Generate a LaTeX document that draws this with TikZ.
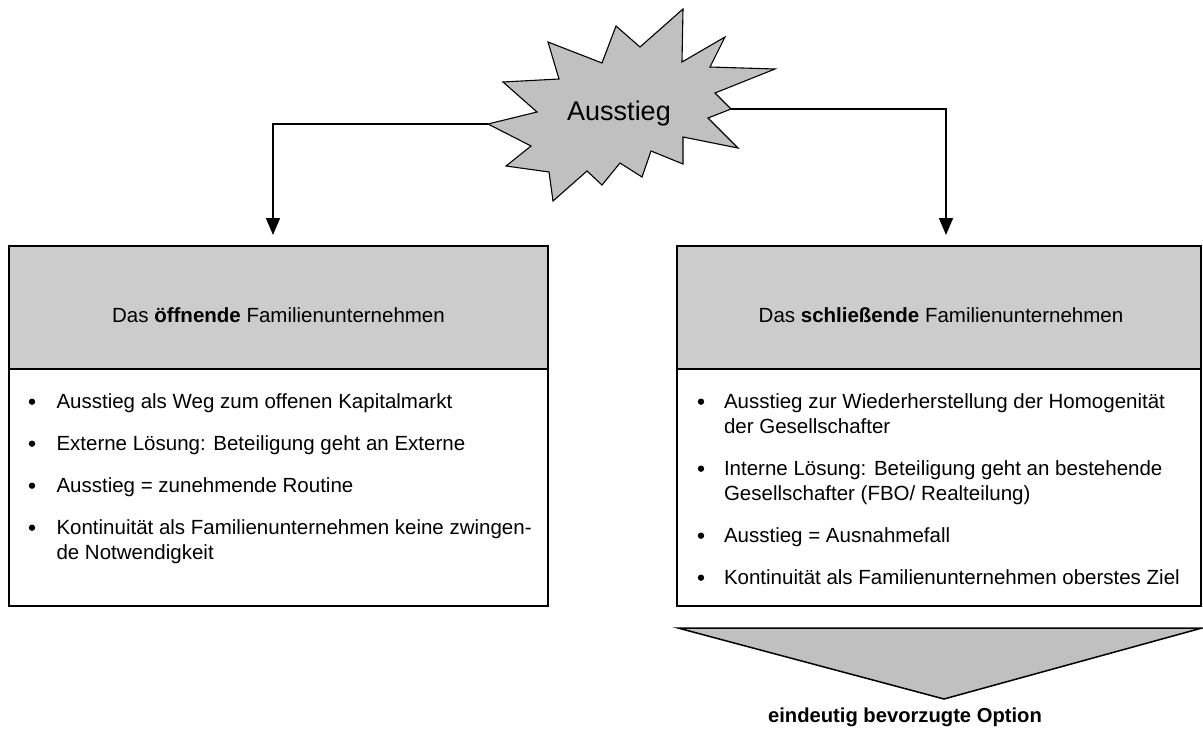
\documentclass[tikz,border=0pt]{standalone}
\usepackage{fontspec}
\setmainfont{Liberation Sans}
\usetikzlibrary{arrows.meta}
\definecolor{hdrgray}{RGB}{204,204,204}
\definecolor{burstgray}{RGB}{192,192,192}
\tikzset{
  boxframe/.style={draw=black, line width=2pt, inner sep=0pt, outer sep=0pt, anchor=north west},
  hdrbox/.style={boxframe, fill=hdrgray},
  bodytxt/.style={anchor=base west, inner sep=0pt, outer sep=0pt, font=\fontsize{20.5}{25}\selectfont},
  hdrtxt/.style={anchor=base, inner sep=0pt, outer sep=0pt, font=\fontsize{20.5}{25}\selectfont},
  conn/.style={draw=black, line width=1.5pt, -{Triangle[length=17pt,width=14pt]}},
  bulletdot/.style={circle, fill=black, inner sep=0pt, minimum size=6.4pt}
}
\begin{document}
\begin{tikzpicture}[x=1pt,y=-1pt]
\useasboundingbox[fill=white] (0,0) rectangle (1203,731);

% starburst
\draw[fill=burstgray, line width=1.1pt, line join=miter]
 (683,9) -- (640,47) -- (616,26) -- (602,63) -- (548,42) -- (559,79) -- (503,82)
 -- (537,112) -- (488,124) -- (531,146) -- (506,166) -- (549,172) -- (553,201)
 -- (587,171) -- (602,185) -- (620,163) -- (642,177) -- (651,151) -- (683,164)
 -- (683,137) -- (738,148) -- (708,118) -- (731,109) -- (715,93) -- (775,69)
 -- (710,67) -- (725,37) -- (682,62) -- cycle;
\node[anchor=base, inner sep=0pt, font=\fontsize{27}{30}\selectfont] (burst) at (619,120) {Ausstieg};
\coordinate (burstL) at (488,124);
\coordinate (burstR) at (731,109);

% left box
\node[hdrbox, minimum width=539pt, minimum height=123pt] (lhead) at (9,246) {};
\node[boxframe, minimum width=539pt, minimum height=237pt] (lbody) at (9,369) {};
\node[hdrtxt] (lheadtxt) at (278.5,322) {Das \textbf{öffnende} Familienunternehmen};

% right box
\node[hdrbox, minimum width=524pt, minimum height=123pt] (rhead) at (677,246) {};
\node[boxframe, minimum width=524pt, minimum height=237pt] (rbody) at (677,369) {};
\node[hdrtxt] (rheadtxt) at (941,322) {Das \textbf{schließende} Familienunternehmen};

% arrow targets
\coordinate (ltip) at (273,235);
\coordinate (rtip) at (946,235);
\draw[conn] (burstL) -| (ltip);
\draw[conn] (burstR) -| (rtip);

% left bullets
\node[bulletdot] (lb1) at (32,401.7) {};
\node[bodytxt] (lt1) at (56.5,408) {Ausstieg als Weg zum offenen Kapitalmarkt};
\node[bulletdot] (lb2) at (32,443.7) {};
\node[bodytxt] (lt2) at (56.5,450) {Externe Lösung: Beteiligung geht an Externe};
\node[bulletdot] (lb3) at (32,485.7) {};
\node[bodytxt] (lt3) at (56.5,492) {Ausstieg = zunehmende Routine};
\node[bulletdot] (lb4) at (32,527.7) {};
\node[bodytxt] (lt4) at (56.5,534) {Kontinuität als Familienunternehmen keine zwingen-};
\node[bodytxt] (lt5) at (56.5,559) {de Notwendigkeit};

% right bullets
\node[bulletdot] (rb1) at (701,401.7) {};
\node[bodytxt] (rt1) at (724,408) {Ausstieg zur Wiederherstellung der Homogenität};
\node[bodytxt] (rt2) at (724,433) {der Gesellschafter};
\node[bulletdot] (rb2) at (701,468.7) {};
\node[bodytxt] (rt3) at (724,475) {Interne Lösung: Beteiligung geht an bestehende};
\node[bodytxt] (rt4) at (724,500) {Gesellschafter (FBO/ Realteilung)};
\node[bulletdot] (rb3) at (701,535.7) {};
\node[bodytxt] (rt5) at (724,542) {Ausstieg = Ausnahmefall};
\node[bulletdot] (rb4) at (701,577.7) {};
\node[bodytxt] (rt6) at (724,584) {Kontinuität als Familienunternehmen oberstes Ziel};

% preferred option triangle
\draw[fill=burstgray, line width=1.5pt, line join=miter] (678,628) -- (1202,628) -- (944,699) -- cycle;
\node[anchor=base, inner sep=0pt, font=\fontsize{20.2}{24}\selectfont\bfseries] (opt) at (905,722) {eindeutig bevorzugte Option};
\end{tikzpicture}
\end{document}
